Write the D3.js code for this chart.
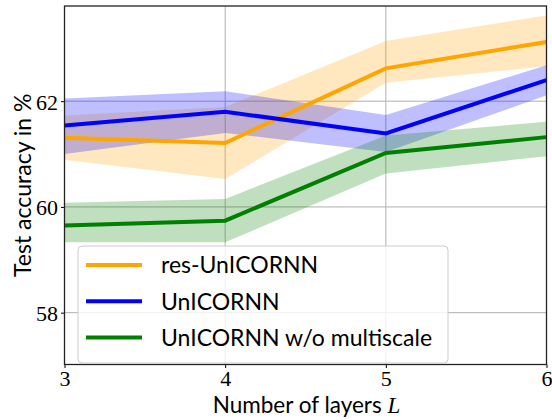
<!DOCTYPE html>
<html>
<head>
<meta charset="utf-8">
<script src="https://cdn.jsdelivr.net/npm/d3@7"></script>
<style>
  body { margin: 0; background: #fff; }
  svg { display: block; }
  .tick text { font-family: "Liberation Serif", "DejaVu Serif", serif; font-size: 22px; fill: #000; }
</style>
</head>
<body>
<svg width="552" height="420"></svg>
<script>
// layers on the x axis
const layers = [3, 4, 5, 6];
const yTicks = [58, 60, 62];

// mean and band (lower / upper) for each model
const resMean = [61.31, 61.21, 62.62, 63.12];
const resLow  = [60.89, 60.53, 62.35, 62.66];
const resHigh = [61.73, 61.89, 63.14, 63.62];

const uniMean = [61.54, 61.80, 61.39, 62.40];
const uniLow  = [61.00, 61.40, 61.04, 62.11];
const uniHigh = [62.05, 62.19, 61.74, 62.68];

const woMean = [59.65, 59.74, 61.02, 61.32];
const woLow  = [59.33, 59.33, 60.63, 60.96];
const woHigh = [60.08, 60.15, 61.35, 61.61];

const seriesNames = ['res-UnICORNN', 'UnICORNN', 'UnICORNN w/o multiscale'];
const seriesColors = ['#ffa500', '#0000ff', '#008000'];

const series = [
    { mean: resMean, low: resLow, high: resHigh },
    { mean: uniMean, low: uniLow, high: uniHigh },
    { mean: woMean, low: woLow, high: woHigh }
];

const margin = { left: 64.5, right: 5.5, top: 6, bottom: 55.5 };
const width = 552, height = 420;

const svg = d3.select('svg');

const x = d3.scaleLinear().domain([3, 6]).range([margin.left, width - margin.right]);
const y = d3.scaleLinear().domain([57.02, 63.8]).range([height - margin.bottom, margin.top]);

//grid
const grid = svg.append('g');
grid.selectAll('.vg').data(layers).enter().append('line')
    .attr('x1', d => x(d)).attr('x2', d => x(d))
    .attr('y1', y.range()[1]).attr('y2', y.range()[0])
    .attr('stroke', '#b0b0b0').attr('stroke-width', 1);
grid.selectAll('.hg').data(yTicks).enter().append('line')
    .attr('y1', d => y(d)).attr('y2', d => y(d))
    .attr('x1', x.range()[0]).attr('x2', x.range()[1])
    .attr('stroke', '#b0b0b0').attr('stroke-width', 1);

//bands then lines
const area = d3.area()
    .x((d, i) => x(layers[i]))
    .y0(d => y(d[0]))
    .y1(d => y(d[1]));
const line = d3.line()
    .x((d, i) => x(layers[i]))
    .y(d => y(d));

const plot = svg.append('g');
series.forEach((s, k) => {
    plot.append('path')
        .attr('d', area(s.low.map((v, i) => [v, s.high[i]])))
        .attr('fill', seriesColors[k])
        .attr('fill-opacity', 0.25);
});
series.forEach((s, k) => {
    plot.append('path')
        .attr('d', line(s.mean))
        .attr('fill', 'none')
        .attr('stroke', seriesColors[k])
        .attr('stroke-width', 4);
});

//axes
const xAxis = svg.append('g')
    .attr('transform', `translate(0, ${y.range()[0]})`)
    .call(d3.axisBottom(x).tickValues(layers).tickFormat(d3.format('d')).tickSize(3.5).tickPadding(3));
const yAxis = svg.append('g')
    .attr('transform', `translate(${x.range()[0]}, 0)`)
    .call(d3.axisLeft(y).tickValues(yTicks).tickFormat(d3.format('d')).tickSize(3.5).tickPadding(3));

[xAxis, yAxis].forEach(a => {
    a.select('.domain').remove();
    a.attr('font-family', null).attr('font-size', null);
    a.selectAll('line').attr('stroke', '#000');
});
yAxis.selectAll('text').attr('dy', '0.36em');
xAxis.selectAll('text').attr('dy', '0.68em');

//frame
svg.append('rect')
    .attr('x', x.range()[0]).attr('y', y.range()[1])
    .attr('width', x.range()[1] - x.range()[0])
    .attr('height', y.range()[0] - y.range()[1])
    .attr('fill', 'none').attr('stroke', '#222').attr('stroke-width', 1.3);

//axis titles
const xTitle = svg.append('text')
    .attr('x', (x.range()[0] + x.range()[1]) / 2 + 1)
    .attr('y', 413)
    .attr('text-anchor', 'middle')
    .attr('font-family', 'Lato, "DejaVu Sans", sans-serif')
    .attr('font-size', 22.5);
xTitle.append('tspan').text('Number of layers ');
xTitle.append('tspan').text('L')
    .attr('font-family', '"Liberation Serif", serif')
    .attr('font-style', 'italic')
    .attr('font-size', 23);

svg.append('text')
    .attr('transform', `translate(31, ${(y.range()[0] + y.range()[1]) / 2}) rotate(-90)`)
    .attr('text-anchor', 'middle')
    .attr('font-family', 'Lato, "DejaVu Sans", sans-serif')
    .attr('font-size', 23)
    .text('Test accuracy in %');

//legend
const legend = svg.append('g').attr('transform', 'translate(78, 246)');
legend.append('rect')
    .attr('width', 370).attr('height', 117)
    .attr('rx', 4)
    .attr('fill', '#fff').attr('fill-opacity', 0.8)
    .attr('stroke', '#cccccc').attr('stroke-width', 1);

const items = legend.selectAll('.item').data(seriesNames).enter().append('g')
    .attr('transform', (d, i) => `translate(0, ${19 + i * 36.3})`);
items.append('line')
    .attr('x1', 8).attr('x2', 64)
    .attr('stroke', (d, i) => seriesColors[i])
    .attr('stroke-width', 4);
items.append('text')
    .attr('x', 83)
    .attr('dy', '0.36em')
    .attr('font-family', 'Lato, "DejaVu Sans", sans-serif')
    .attr('font-size', 23)
    .text(d => d);
</script>
</body>
</html>
